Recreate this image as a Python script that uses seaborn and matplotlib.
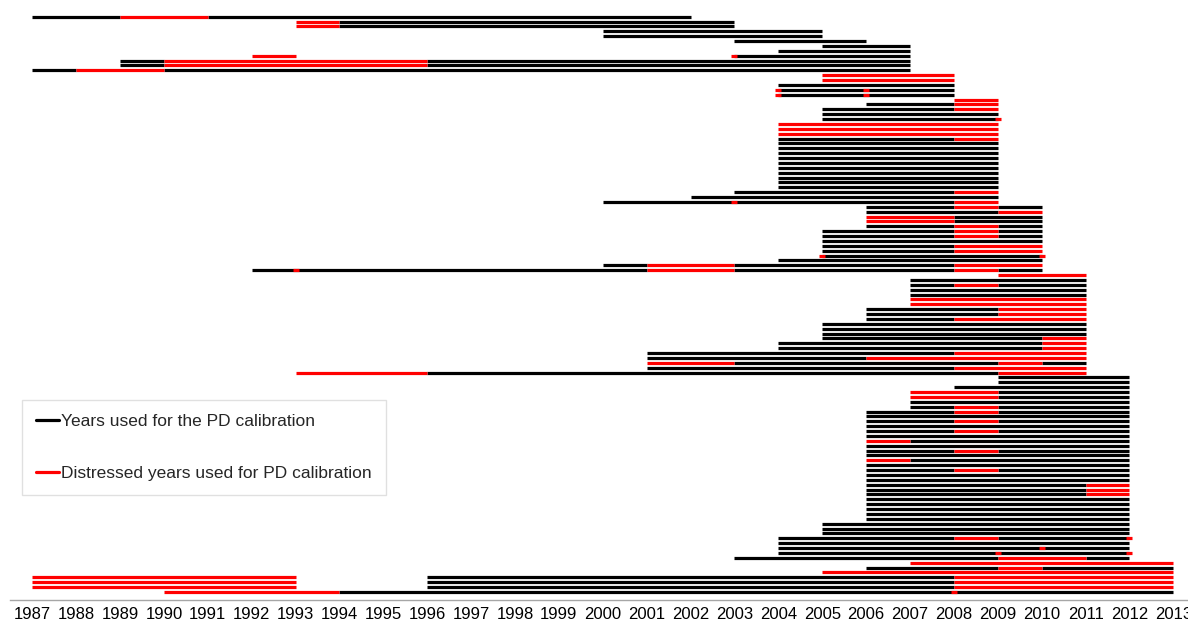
import matplotlib
matplotlib.use("Agg")
import matplotlib.pyplot as plt
from matplotlib.lines import Line2D
import pandas as pd
import seaborn as sns

# one list per row (top to bottom): (from year, to year, k = used, r = distressed)
segments = [
    [(1987, 1989, "k"), (1989, 1991, "r"), (1991, 2002, "k")],
    [(1993, 1994, "r"), (1994, 2003, "k")],
    [(1993, 1994, "r"), (1994, 2003, "k")],
    [(2000, 2005, "k")],
    [(2000, 2005, "k")],
    [(2003, 2006, "k")],
    [(2005, 2007, "k")],
    [(2004, 2007, "k")],
    [(1992, 1993, "r"), (2003, 2007, "k")],
    [(1989, 1990, "k"), (1990, 1996, "r"), (1996, 2007, "k")],
    [(1989, 1990, "k"), (1990, 1996, "r"), (1996, 2007, "k")],
    [(1987, 1988, "k"), (1988, 1990, "r"), (1990, 2007, "k")],
    [(2005, 2008, "r")],
    [(2005, 2008, "r")],
    [(2004, 2008, "k")],
    [(2004, 2008, "k")],
    [(2004, 2008, "k")],
    [(2008, 2009, "r")],
    [(2006, 2008, "k"), (2008, 2009, "r")],
    [(2005, 2008, "k"), (2008, 2009, "r")],
    [(2005, 2009, "k")],
    [(2005, 2009, "k")],
    [(2004, 2009, "r")],
    [(2004, 2009, "r")],
    [(2004, 2009, "r")],
    [(2004, 2008, "k"), (2008, 2009, "r")],
    [(2004, 2009, "k")],
    [(2004, 2009, "k")],
    [(2004, 2009, "k")],
    [(2004, 2009, "k")],
    [(2004, 2009, "k")],
    [(2004, 2009, "k")],
    [(2004, 2009, "k")],
    [(2004, 2009, "k")],
    [(2004, 2009, "k")],
    [(2004, 2009, "k")],
    [(2003, 2008, "k"), (2008, 2009, "r")],
    [(2002, 2009, "k")],
    [(2000, 2008, "k"), (2008, 2009, "r")],
    [(2006, 2008, "k"), (2008, 2009, "r"), (2009, 2010, "k")],
    [(2006, 2009, "k"), (2009, 2010, "r")],
    [(2006, 2008, "r"), (2008, 2010, "k")],
    [(2006, 2008, "r"), (2008, 2010, "k")],
    [(2006, 2008, "k"), (2008, 2009, "r"), (2009, 2010, "k")],
    [(2005, 2008, "k"), (2008, 2009, "r"), (2009, 2010, "k")],
    [(2005, 2008, "k"), (2008, 2009, "r"), (2009, 2010, "k")],
    [(2005, 2010, "k")],
    [(2005, 2008, "k"), (2008, 2010, "r")],
    [(2005, 2008, "k"), (2008, 2010, "r")],
    [(2005, 2010, "k")],
    [(2004, 2010, "k")],
    [(2000, 2001, "k"), (2001, 2003, "r"), (2003, 2008, "k"), (2008, 2010, "r")],
    [(1992, 2001, "k"), (2001, 2003, "r"), (2003, 2008, "k"), (2008, 2009, "r"), (2009, 2010, "k")],
    [(2009, 2011, "r")],
    [(2007, 2011, "k")],
    [(2007, 2008, "k"), (2008, 2009, "r"), (2009, 2011, "k")],
    [(2007, 2011, "k")],
    [(2007, 2011, "k")],
    [(2007, 2011, "r")],
    [(2007, 2011, "r")],
    [(2006, 2009, "k"), (2009, 2011, "r")],
    [(2006, 2009, "k"), (2009, 2011, "r")],
    [(2006, 2008, "k"), (2008, 2011, "r")],
    [(2005, 2011, "k")],
    [(2005, 2011, "k")],
    [(2005, 2011, "k")],
    [(2005, 2010, "k"), (2010, 2011, "r")],
    [(2004, 2010, "k"), (2010, 2011, "r")],
    [(2004, 2010, "k"), (2010, 2011, "r")],
    [(2001, 2008, "k"), (2008, 2011, "r")],
    [(2001, 2006, "k"), (2006, 2011, "r")],
    [(2001, 2003, "r"), (2003, 2009, "k"), (2009, 2010, "r"), (2010, 2011, "k")],
    [(2001, 2008, "k"), (2008, 2011, "r")],
    [(1993, 1996, "r"), (1996, 2009, "k"), (2009, 2011, "r")],
    [(2009, 2012, "k")],
    [(2009, 2012, "k")],
    [(2008, 2012, "k")],
    [(2007, 2009, "r"), (2009, 2012, "k")],
    [(2007, 2009, "r"), (2009, 2012, "k")],
    [(2007, 2012, "k")],
    [(2007, 2008, "k"), (2008, 2009, "r"), (2009, 2012, "k")],
    [(2006, 2008, "k"), (2008, 2009, "r"), (2009, 2012, "k")],
    [(2006, 2012, "k")],
    [(2006, 2008, "k"), (2008, 2009, "r"), (2009, 2012, "k")],
    [(2006, 2012, "k")],
    [(2006, 2008, "k"), (2008, 2009, "r"), (2009, 2012, "k")],
    [(2006, 2012, "k")],
    [(2006, 2007, "r"), (2007, 2012, "k")],
    [(2006, 2012, "k")],
    [(2006, 2008, "k"), (2008, 2009, "r"), (2009, 2012, "k")],
    [(2006, 2012, "k")],
    [(2006, 2007, "r"), (2007, 2012, "k")],
    [(2006, 2012, "k")],
    [(2006, 2008, "k"), (2008, 2009, "r"), (2009, 2012, "k")],
    [(2006, 2012, "k")],
    [(2006, 2012, "k")],
    [(2006, 2011, "k"), (2011, 2012, "r")],
    [(2006, 2011, "k"), (2011, 2012, "r")],
    [(2006, 2011, "k"), (2011, 2012, "r")],
    [(2006, 2012, "k")],
    [(2006, 2012, "k")],
    [(2006, 2012, "k")],
    [(2006, 2012, "k")],
    [(2006, 2012, "k")],
    [(2005, 2012, "k")],
    [(2005, 2012, "k")],
    [(2005, 2012, "k")],
    [(2004, 2008, "k"), (2008, 2009, "r"), (2009, 2012, "k")],
    [(2004, 2012, "k")],
    [(2004, 2012, "k")],
    [(2004, 2012, "k")],
    [(2003, 2009, "k"), (2009, 2011, "r"), (2011, 2012, "k")],
    [(2007, 2013, "r")],
    [(2006, 2009, "k"), (2009, 2010, "r"), (2010, 2013, "k")],
    [(2005, 2013, "r")],
    [(1987, 1993, "r"), (1996, 2008, "k"), (2008, 2013, "r")],
    [(1987, 1993, "r"), (1996, 2008, "k"), (2008, 2013, "r")],
    [(1987, 1993, "r"), (1996, 2008, "k"), (2008, 2013, "r")],
    [(1990, 1994, "r"), (1994, 2013, "k")],
]

# isolated distressed years (row number, year)
red_dots = [(9, 2003), (16, 2004), (16, 2006), (17, 2004), (17, 2006), (22, 2009),
            (39, 2003), (50, 2005), (50, 2010), (53, 1993), (108, 2012),
            (110, 2010), (111, 2009), (111, 2012), (119, 2008)]

years = list(range(1987, 2014))
legend_labels = ["Years used for the PD calibration",
                 "Distressed years used for PD calibration"]

recs = []
for i, row in enumerate(segments, start=1):
    for j, (a, b, c) in enumerate(row):
        recs.append({"seg": f"{i}-{j}", "row": i, "year": a, "status": c})
        recs.append({"seg": f"{i}-{j}", "row": i, "year": b, "status": c})
df = pd.DataFrame(recs)
dots = pd.DataFrame(red_dots, columns=["row", "year"])

sns.set_style("white")
plt.rcParams["font.family"] = ["Liberation Sans", "DejaVu Sans"]

W, H = 1188, 628
x0, step = 10.3, 43.89          # px of the first category boundary, px per year
row0, rstep = 16.7, 4.875       # px of the first row, px per row
axis_px = 600

fig = plt.figure(figsize=(W / 100, H / 100), dpi=100)
ax = fig.add_axes([x0 / W, (H - axis_px) / H, len(years) * step / W, axis_px / H])

lw = 2.3
sns.lineplot(data=df, x="year", y="row", units="seg", estimator=None, hue="status",
             palette={"k": "black", "r": "red"}, sort=False, linewidth=lw,
             legend=False, ax=ax, solid_capstyle="butt")
ax.plot(dots["year"], dots["row"], ls="none", marker="_", ms=4.5, mew=lw, color="red")

ax.set_xlim(years[0] - 0.5, years[-1] + 0.5)
ax.set_ylim(1 + (axis_px - row0) / rstep, 1 - row0 / rstep)

ax.set_xticks(years)
ax.set_xticklabels([str(y) for y in years], fontsize=12)
ax.set_xticks([y + 0.5 for y in [years[0] - 1] + years], minor=True)
ax.tick_params(axis="x", which="major", length=0, pad=5, colors="black")
ax.tick_params(axis="x", which="minor", length=5, width=1, color="#a6a6a6")
ax.set_yticks([])
ax.set_xlabel("")
ax.set_ylabel("")
for s in ["top", "left", "right"]:
    ax.spines[s].set_visible(False)
ax.spines["bottom"].set_color("#a6a6a6")
ax.spines["bottom"].set_linewidth(1)

handles = [Line2D([], [], color="black", lw=lw), Line2D([], [], color="red", lw=lw)]
fig.legend(handles, legend_labels, loc="upper left",
           bbox_to_anchor=(22 / W, 1 - 400 / H), frameon=True, fancybox=False,
           edgecolor="#d9d9d9", prop={"family": "Liberation Sans", "size": 12.5},
           handlelength=1.3, handletextpad=0.12, labelspacing=2.1,
           borderpad=0.82, borderaxespad=0)

fig.savefig("out.png", dpi=100)
